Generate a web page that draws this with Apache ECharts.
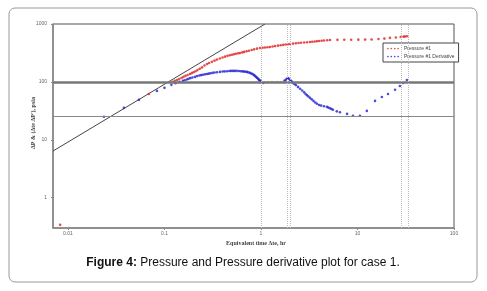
<!DOCTYPE html>
<html>
<head>
<meta charset="utf-8">
<script src="https://cdn.jsdelivr.net/npm/echarts@6/dist/echarts.min.js"></script>
<style>
  html, body { margin: 0; padding: 0; background: #fff; }
  #chart { width: 487px; height: 291px; }
</style>
</head>
<body>
<div id="chart"></div>
<script>
// values (x = equivalent time, hr; y = psia)
const pressure = [
  [0.0083, 0.34], [0.069, 62],
  [0.122, 100], [0.128, 104], [0.135, 108], [0.142, 112], [0.15, 117], [0.157, 122],
  [0.165, 127], [0.174, 132], [0.184, 137], [0.192, 142], [0.2, 147], [0.21, 153],
  [0.22, 160], [0.232, 169], [0.245, 178], [0.26, 192], [0.276, 204], [0.29, 212],
  [0.31, 222], [0.33, 233], [0.35, 243], [0.375, 254], [0.4, 264], [0.425, 273],
  [0.45, 282], [0.475, 289], [0.5, 295], [0.525, 301], [0.55, 306], [0.58, 311],
  [0.606, 316], [0.64, 323], [0.67, 330], [0.71, 338], [0.75, 345], [0.8, 355],
  [0.85, 365], [0.91, 375], [0.976, 385], [1.04, 389], [1.1, 393], [1.17, 397],
  [1.24, 400], [1.32, 408], [1.4, 415], [1.5, 423], [1.6, 430], [1.7, 436],
  [1.8, 442], [1.9, 447], [2.0, 452], [2.15, 459], [2.3, 465], [2.45, 470],
  [2.6, 475], [2.8, 480], [3.0, 485], [3.22, 490], [3.4, 495], [3.6, 500],
  [3.8, 505], [4.0, 510], [4.25, 515], [4.5, 520], [4.85, 525], [5.19, 530],
  [6.2, 532], [7.3, 533], [8.6, 535], [10.2, 537], [12, 538], [14, 540],
  [16.5, 550], [19, 560], [21.7, 575], [25, 585], [28, 595], [30, 605],
  [31, 610], [32.5, 615]
];
const derivative = [
  [0.0236, 25], [0.038, 35.6], [0.0544, 49], [0.0836, 70], [0.1, 79], [0.118, 89],
  [0.13, 95], [0.143, 100], [0.155, 104], [0.162, 107], [0.17, 110], [0.177, 113],
  [0.185, 116], [0.195, 119], [0.207, 122], [0.218, 126], [0.23, 129], [0.24, 131],
  [0.25, 133], [0.263, 135], [0.276, 137], [0.288, 139], [0.3, 141], [0.315, 143],
  [0.33, 145], [0.35, 147], [0.376, 149], [0.4, 151], [0.42, 152], [0.445, 153],
  [0.47, 154], [0.49, 155], [0.513, 155], [0.535, 155], [0.56, 155], [0.59, 154],
  [0.62, 153], [0.645, 152], [0.67, 151], [0.69, 150], [0.716, 149], [0.74, 146],
  [0.77, 143], [0.795, 140], [0.82, 136], [0.845, 131], [0.867, 127], [0.89, 122],
  [0.91, 118], [0.93, 114], [0.95, 110], [0.965, 107], [0.976, 104], [0.99, 102],
  [1.0, 100], [1.05, 96],
  [1.75, 104], [1.8, 108], [1.85, 113], [1.9, 117], [1.95, 113], [2.0, 108],
  [2.05, 104], [2.1, 100], [2.15, 96], [2.22, 92], [2.3, 88], [2.42, 82],
  [2.54, 76], [2.67, 71], [2.8, 66], [2.9, 62], [3.0, 59], [3.1, 56], [3.22, 53],
  [3.35, 50], [3.5, 47], [3.65, 44], [3.8, 42], [4.0, 40], [4.2, 39], [4.5, 38],
  [4.83, 37], [5.0, 36], [5.2, 35], [5.38, 34], [5.56, 33], [6.1, 31],
  [6.58, 30], [7.8, 28], [8.98, 26], [10.6, 26], [12.5, 31.6], [15.2, 47],
  [17.9, 55], [20.7, 62], [24.5, 73], [27.5, 85], [29.5, 96], [32.5, 108]
];
// flat part of the derivative, drawn in a pale olive colour in the figure
const derivativeFlat = [
  [1.1, 99], [1.2, 100], [1.3, 100], [1.4, 99], [1.5, 100], [1.6, 100], [1.7, 101]
];
const unitSlope = [[0.007, 6.4], [1.1, 1000]];
const refLevels = [100, 26];
const refTimes = [1, 1.86, 2.0, 28.2, 33.4];

const chart = echarts.init(document.getElementById('chart'));

const dots4 = 'path://M0,1a1,1 0 1,0 2,0a1,1 0 1,0 -2,0M4,1a1,1 0 1,0 2,0a1,1 0 1,0 -2,0' +
  'M8,1a1,1 0 1,0 2,0a1,1 0 1,0 -2,0M12,1a1,1 0 1,0 2,0a1,1 0 1,0 -2,0';

chart.setOption({
  animation: false,
  grid: {
    left: 53, top: 24, right: 33, bottom: 63,
    show: true, borderColor: '#555', borderWidth: 1
  },
  xAxis: {
    type: 'log', min: 0.007, max: 100,
    axisLine: { lineStyle: { color: '#888', width: 1.5 } },
    axisTick: { length: 2, lineStyle: { color: '#888' } },
    axisLabel: { fontSize: 5, color: '#666', margin: 3, showMinLabel: false },
    splitLine: { show: false }
  },
  yAxis: {
    type: 'log', min: 0.3, max: 1000,
    axisLine: { show: true, lineStyle: { color: '#888', width: 1.5 } },
    axisTick: { show: true, length: 2, lineStyle: { color: '#888' } },
    axisLabel: {
      fontSize: 5, color: '#666', margin: 6, showMinLabel: false,
      formatter: v => String(v)
    },
    splitLine: { show: false }
  },
  legend: {
    orient: 'vertical', left: 383, top: 43,
    padding: [3, 4, 3, 4], itemGap: 3,
    itemWidth: 12, itemHeight: 2.5,
    backgroundColor: '#fff', borderColor: '#444', borderWidth: 1, borderRadius: 0,
    textStyle: { fontSize: 5, color: '#444', fontFamily: 'Liberation Sans' },
    data: [
      { name: 'Pressure #1', icon: dots4 },
      { name: 'Pressure #1 Derivative', icon: dots4 }
    ]
  },
  series: [
    {
      type: 'line', data: unitSlope, symbol: 'none', silent: true,
      lineStyle: { color: '#444', width: 1 },
      markLine: {
        silent: true, symbol: 'none', label: { show: false },
        data: [
          { yAxis: refLevels[0], lineStyle: { color: '#777', width: 2.5, type: 'solid' } },
          { yAxis: refLevels[1], lineStyle: { color: '#888', width: 1, type: 'solid' } }
        ].concat(refTimes.map(t => ({
          xAxis: t, lineStyle: { color: '#bbb', width: 1, type: [1, 1] }
        })))
      },
      z: 1
    },
    {
      name: 'Pressure #1', type: 'scatter', data: pressure,
      symbol: 'circle', symbolSize: 2.6,
      itemStyle: { color: '#e02020' }, z: 3
    },
    {
      name: 'Pressure #1 Derivative', type: 'scatter', data: derivative,
      symbol: 'circle', symbolSize: 2.6,
      itemStyle: { color: '#2020d0' }, z: 3
    },
    {
      type: 'scatter', data: derivativeFlat,
      symbol: 'circle', symbolSize: 2.2,
      itemStyle: { color: '#b5b050' }, z: 3
    }
  ],
  graphic: [
    {
      type: 'rect', silent: true,
      shape: { x: 9, y: 8, width: 468, height: 274, r: 6 },
      style: { fill: 'none', stroke: '#999', lineWidth: 1 }
    },
    {
      type: 'text', x: 256, y: 243,
      style: {
        text: 'Equivalent time \u0394te, hr', align: 'center', verticalAlign: 'middle',
        fontSize: 6, fontWeight: 'bold', fill: '#444', fontFamily: 'Liberation Serif'
      }
    },
    {
      type: 'text', x: 33, y: 123, rotation: Math.PI / 2,
      style: {
        text: '\u0394P & (\u0394te \u0394P\'), psia', align: 'center', verticalAlign: 'middle',
        fontSize: 6, fontWeight: 'bold', fill: '#444', fontFamily: 'Liberation Serif'
      }
    },
    {
      type: 'text', x: 243, y: 263,
      style: {
        text: '{b|Figure 4:} Pressure and Pressure derivative plot for case 1.',
        align: 'center', verticalAlign: 'middle',
        fontSize: 12, fill: '#111', fontFamily: 'Liberation Sans',
        rich: { b: { fontSize: 12, fontWeight: 'bold', fill: '#111', fontFamily: 'Liberation Sans' } }
      }
    }
  ]
});
</script>
</body>
</html>
